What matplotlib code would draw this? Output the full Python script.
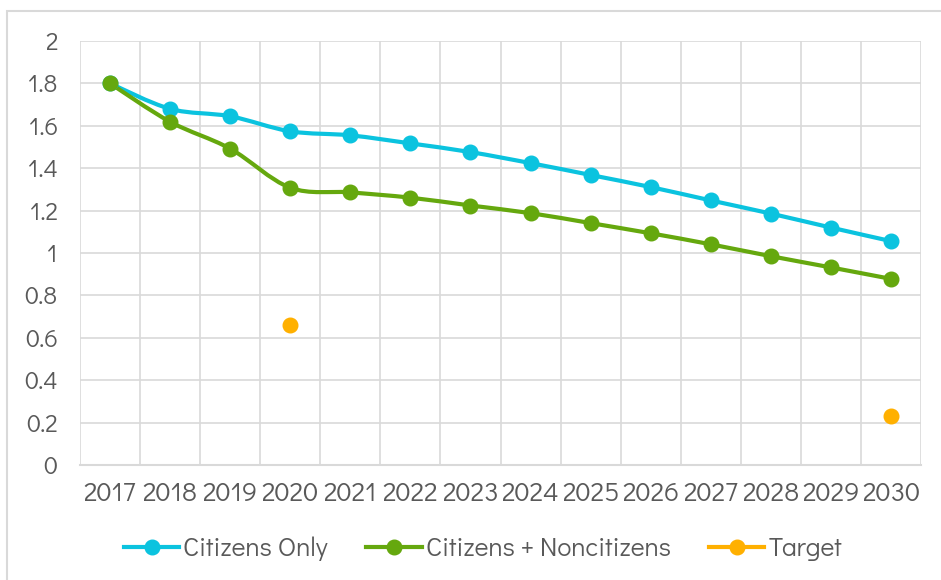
import numpy as np
import matplotlib
matplotlib.use('Agg')
import matplotlib.pyplot as plt
from matplotlib.path import Path
from matplotlib.patches import PathPatch, Rectangle
from matplotlib.lines import Line2D

# data
years = ['2017', '2018', '2019', '2020', '2021', '2022', '2023',
         '2024', '2025', '2026', '2027', '2028', '2029', '2030']
citizens_only = [1.80, 1.68, 1.645, 1.574, 1.555, 1.517, 1.476,
                 1.424, 1.368, 1.311, 1.248, 1.186, 1.120, 1.056]
citizens_noncitizens = [1.80, 1.619, 1.492, 1.308, 1.286, 1.261, 1.224,
                        1.188, 1.141, 1.093, 1.041, 0.985, 0.932, 0.878]
target = [np.nan, np.nan, np.nan, 0.66, np.nan, np.nan, np.nan,
          np.nan, np.nan, np.nan, np.nan, np.nan, np.nan, 0.231]

plt.rcParams['font.family'] = ['Didact Gothic', 'DejaVu Sans']

CYAN = '#0BC3DF'
GREEN = '#65A80E'
ORANGE = '#FFB000'
GRID = '#D9D9D9'
TXT = '#595959'


def smooth_path(x, y):
    # Excel-like smoothed line: cubic bezier, catmull-rom style control points
    pts = np.column_stack([x, y]).astype(float)
    verts = [pts[0]]
    codes = [Path.MOVETO]
    n = len(pts)
    for i in range(n - 1):
        p0 = pts[i - 1] if i > 0 else pts[i]
        p1, p2 = pts[i], pts[i + 1]
        p3 = pts[i + 2] if i + 2 < n else pts[i + 1]
        c1 = p1 + (p2 - p0) / 6
        c2 = p2 - (p3 - p1) / 6
        verts += [c1, c2, p2]
        codes += [Path.CURVE4] * 3
    return Path(verts, codes)


fig = plt.figure(figsize=(9.41, 5.80), dpi=100)
ax = fig.add_axes([80 / 941, 115 / 580, 841 / 941, 424 / 580])

x = np.arange(len(years))
for vals, col in [(citizens_only, CYAN), (citizens_noncitizens, GREEN)]:
    ax.add_patch(PathPatch(smooth_path(x, vals), facecolor='none',
                           edgecolor=col, lw=3, zorder=3, capstyle='round'))
    ax.plot(x, vals, 'o', color=col, markersize=10.5, zorder=4)
ax.plot(x, target, 'o', color=ORANGE, markersize=10.5, zorder=4)

ax.set_xlim(-0.5, len(years) - 0.5)
ax.set_ylim(0, 2)
ax.set_yticks(np.arange(0, 2.01, 0.2))
ax.set_yticklabels(['0', '0.2', '0.4', '0.6', '0.8', '1', '1.2', '1.4',
                    '1.6', '1.8', '2'])
ax.set_xticks(x)
ax.set_xticklabels(years)
ax.set_xticks(np.arange(-0.5, len(years), 1), minor=True)
ax.grid(True, axis='y', color=GRID, lw=1.2)
ax.grid(True, axis='x', which='minor', color=GRID, lw=1.2)
ax.tick_params(which='both', length=0, colors=TXT)
ax.tick_params(axis='y', pad=16, labelsize=18)
ax.tick_params(axis='x', pad=12, labelsize=19.5)
for s in ax.spines.values():
    s.set_visible(False)
ax.spines['bottom'].set_visible(True)
ax.spines['bottom'].set_color(GRID)
ax.spines['bottom'].set_linewidth(1.5)
ax.set_axisbelow(True)

handles = [Line2D([], [], color=c, lw=3, marker='o', markersize=10.5)
           for c in (CYAN, GREEN, ORANGE)]
leg = fig.legend(handles, ['Citizens Only', 'Citizens + Noncitizens', 'Target'],
                 loc='center', bbox_to_anchor=(483 / 941, 1 - 549 / 580),
                 ncol=3, frameon=False, fontsize=19, handlelength=2.1,
                 handletextpad=0.15, columnspacing=1.45, labelcolor=TXT)

fig.add_artist(Rectangle((7 / 941, -0.1), 1.0, 1.1 - 11 / 580,
                         transform=fig.transFigure, fill=False,
                         edgecolor=GRID, lw=1.5))

fig.savefig('out.png', dpi=100)
